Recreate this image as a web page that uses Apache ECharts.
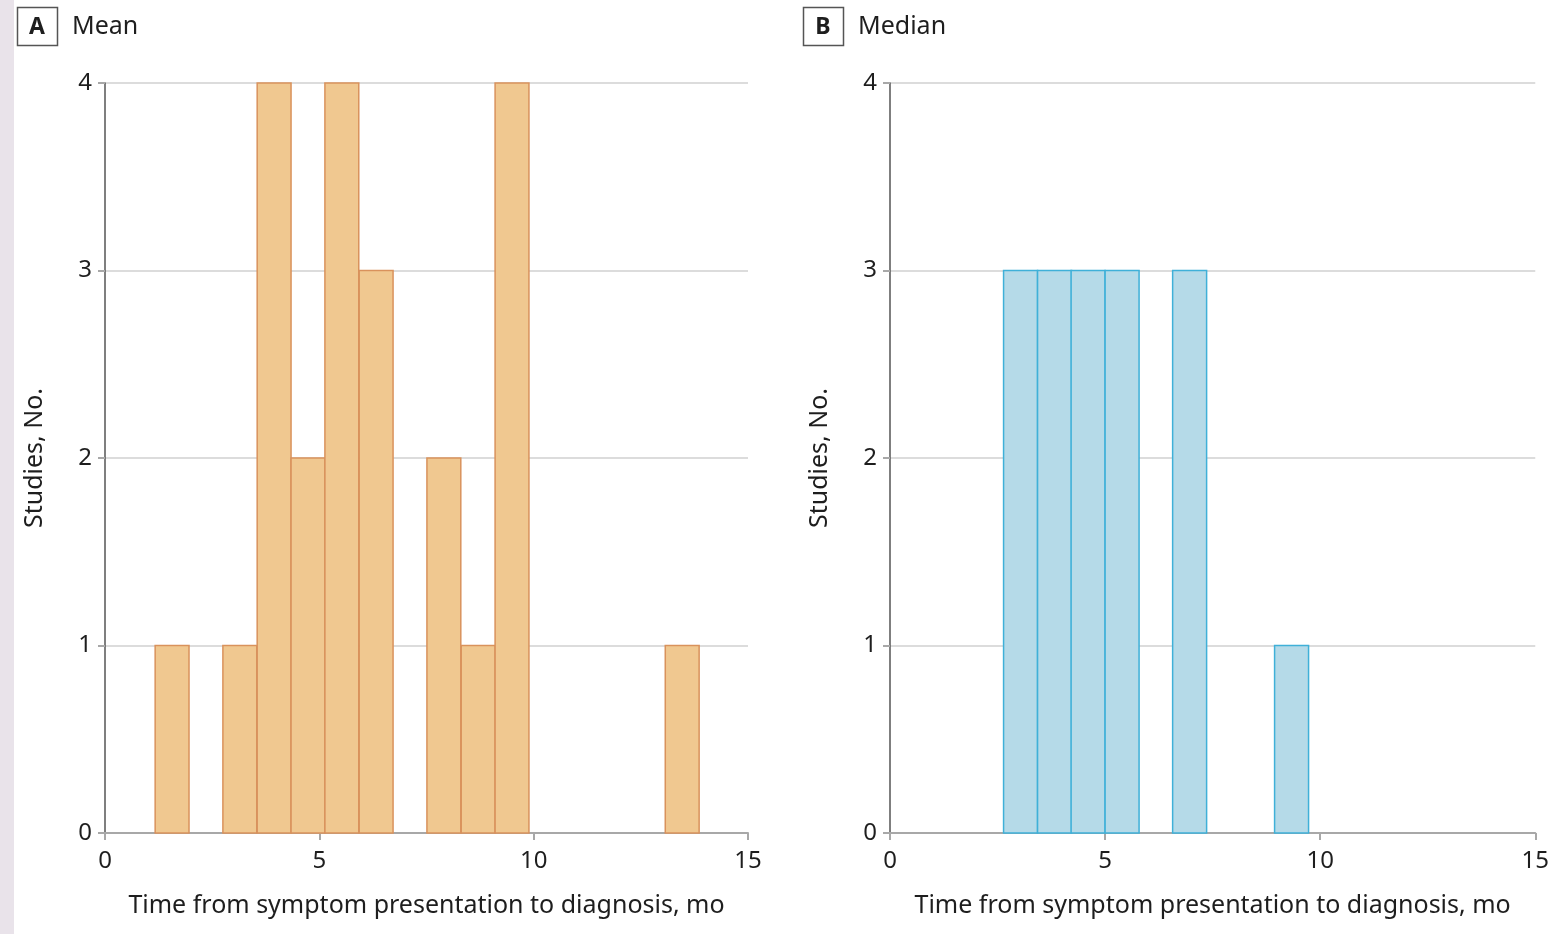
<!DOCTYPE html>
<html>
<head>
<meta charset="utf-8">
<script src="https://cdn.jsdelivr.net/npm/echarts@6/dist/echarts.min.js"></script>
<style>
html,body{margin:0;padding:0;background:#fff;}
#chart{width:1552px;height:934px;}
</style>
</head>
<body>
<div id="chart"></div>
<script>
// ---- Data ----
const xTicks = [0, 5, 10, 15];
const yTicks = [0, 1, 2, 3, 4];
const binWidth = 0.79;
// Panel A (Mean): bin start (months) and number of studies
const meanBinStart = [1.17, 2.75, 3.55, 4.34, 5.13, 5.93, 7.51, 8.31, 9.10, 13.07];
const meanCounts   = [1, 1, 4, 2, 4, 3, 2, 1, 4, 1];
// Panel B (Median)
const medianBinStart = [2.64, 3.43, 4.21, 5.00, 6.57, 8.94];
const medianCounts   = [3, 3, 3, 3, 3, 1];
const panelLetters = ['A', 'B'];
const panelTitles = ['Mean', 'Median'];
const xTitle = 'Time from symptom presentation to diagnosis, mo';
const yTitle = 'Studies, No.';

const FONT = '"Noto Sans", "Open Sans", sans-serif';
const TXT = '#1e1e1e';

function toData(starts, counts) {
  return starts.map((s, i) => [s, s + binWidth, counts[i]]);
}

function makeRender(fill, stroke) {
  return function (params, api) {
    const p0 = api.coord([api.value(0), api.value(2)]);
    const p1 = api.coord([api.value(1), 0]);
    return {
      type: 'rect',
      shape: { x: p0[0], y: p0[1], width: p1[0] - p0[0], height: p1[1] - p0[1] },
      style: { fill: fill, stroke: stroke, lineWidth: 1.5 }
    };
  };
}

const grids = [
  { left: 105, top: 83, width: 643, height: 750 },
  { left: 890, top: 83, width: 648, height: 750 }
];

function xAxis(i) {
  return {
    gridIndex: i, type: 'value', min: 0, max: 15, interval: 5,
    name: xTitle, nameLocation: 'middle', nameGap: 60,
    nameTextStyle: { fontFamily: FONT, fontSize: 25, color: TXT },
    axisLine: { show: true, onZero: false, lineStyle: { color: '#a8a8a8', width: 2 } },
    axisTick: { show: true, length: 7, lineStyle: { color: '#a8a8a8', width: 2 } },
    axisLabel: { fontFamily: FONT, fontSize: 24, color: TXT, margin: 16 },
    splitLine: { show: false }
  };
}
function yAxis(i) {
  return {
    gridIndex: i, type: 'value', min: 0, max: 4, interval: 1,
    name: yTitle, nameLocation: 'middle', nameGap: 58, nameRotate: 90,
    nameTextStyle: { fontFamily: FONT, fontSize: 25, color: TXT },
    axisLine: { show: true, lineStyle: { color: '#555', width: 1.5 } },
    axisTick: { show: true, length: 7, lineStyle: { color: '#a8a8a8', width: 2 } },
    axisLabel: { fontFamily: FONT, fontSize: 24, color: TXT, margin: 13 },
    splitLine: { show: true, lineStyle: { color: '#dcdcdc', width: 2 } }
  };
}

const labelX = [17, 803];
const graphics = [
  { type: 'rect', left: 0, top: 0, shape: { width: 14, height: 934 }, style: { fill: '#e9e3ea' }, silent: true }
];
panelLetters.forEach((l, i) => {
  graphics.push({ type: 'rect', shape: { x: labelX[i] + 0.5, y: 7.5, width: 40, height: 38 },
    style: { fill: '#fff', stroke: '#555', lineWidth: 1.5 } });
  graphics.push({ type: 'text', x: labelX[i] + 20, y: 27,
    style: { text: l, font: 'bold 23px ' + FONT, fill: '#1e1e1e', align: 'center', verticalAlign: 'middle' } });
  graphics.push({ type: 'text', x: labelX[i] + 55, y: 27,
    style: { text: panelTitles[i], font: '25px ' + FONT, fill: '#1e1e1e', align: 'left', verticalAlign: 'middle' } });
});

const chart = echarts.init(document.getElementById('chart'));
chart.setOption({
  animation: false,
  backgroundColor: '#fff',
  grid: grids,
  xAxis: [xAxis(0), xAxis(1)],
  yAxis: [yAxis(0), yAxis(1)],
  graphic: graphics,
  series: [
    { type: 'custom', xAxisIndex: 0, yAxisIndex: 0, renderItem: makeRender('#f0c890', '#d9925c'),
      encode: { x: [0, 1], y: 2 }, data: toData(meanBinStart, meanCounts) },
    { type: 'custom', xAxisIndex: 1, yAxisIndex: 1, renderItem: makeRender('#b5dae8', '#3fb0d8'),
      encode: { x: [0, 1], y: 2 }, data: toData(medianBinStart, medianCounts) }
  ]
});
</script>
</body>
</html>
